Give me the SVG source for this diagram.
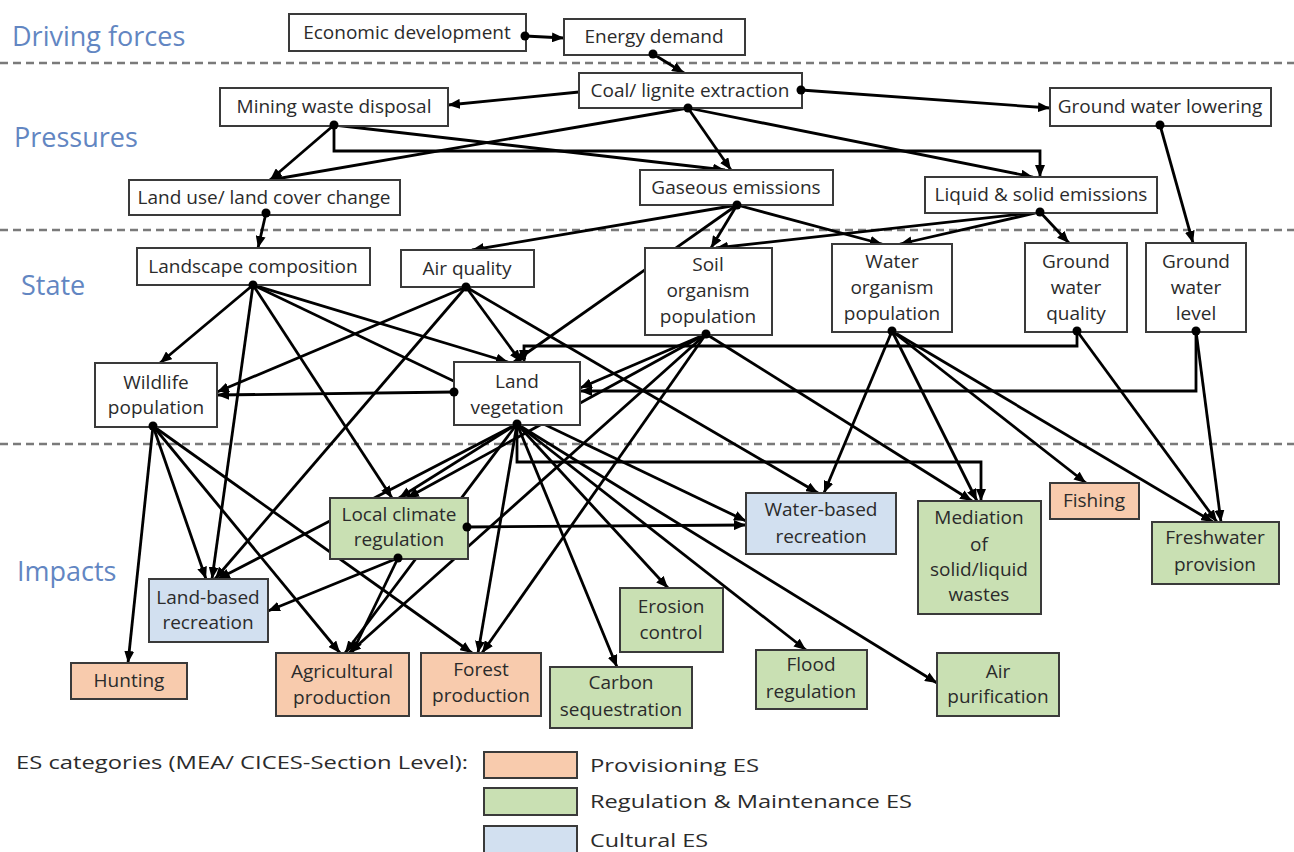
<svg xmlns="http://www.w3.org/2000/svg" width="1294" height="852" viewBox="0 0 1294 852">
<defs>
<marker id="arr" viewBox="0 0 12 10" refX="12" refY="5" markerWidth="12" markerHeight="10" markerUnits="userSpaceOnUse" orient="auto"><path d="M0,0 L12,5 L0,10 z" fill="#000"/></marker>
<style>
.c{fill:none;stroke:#000;stroke-width:2.8;marker-end:url(#arr)}
.n rect{fill:#fff;stroke:#3a3a3a;stroke-width:2}
.n text{font-family:"Open Sans","Liberation Sans",sans-serif;font-size:19px;fill:#2b2b2b;text-anchor:middle}
.prov rect{fill:#f8cbad}
.reg rect{fill:#c9e0b3}
.cul rect{fill:#d2e0f0}
.sec{font-family:"Open Sans","Liberation Sans",sans-serif;font-size:27px;fill:#6286c2}
.dash{stroke:#7a7a7a;stroke-width:2.5;stroke-dasharray:8 5}
.dot circle{fill:#000}
.leg{font-family:"Open Sans","Liberation Sans",sans-serif;font-size:19px;fill:#2b2b2b}
</style>
</defs>
<rect width="1294" height="852" fill="#fff"/>
<g id="sections">
<line class="dash" x1="0" y1="63" x2="1294" y2="63"/>
<line class="dash" x1="0" y1="230" x2="1294" y2="230"/>
<line class="dash" x1="0" y1="444" x2="1294" y2="444"/>
<text class="sec" x="12" y="46">Driving forces</text>
<text class="sec" x="14" y="147">Pressures</text>
<text class="sec" x="21" y="295">State</text>
<text class="sec" x="17" y="581">Impacts</text>
</g>
<g id="connectors">
<line class="c" x1="525" y1="36" x2="564" y2="38"/>
<line class="c" x1="653" y1="54" x2="684" y2="73"/>
<line class="c" x1="579" y1="92" x2="448" y2="105"/>
<line class="c" x1="801" y1="90" x2="1050" y2="108"/>
<line class="c" x1="688" y1="108" x2="270" y2="180"/>
<line class="c" x1="688" y1="108" x2="731" y2="170"/>
<line class="c" x1="688" y1="108" x2="1033" y2="177"/>
<line class="c" x1="334" y1="125" x2="270" y2="180"/>
<line class="c" x1="334" y1="125" x2="725" y2="170"/>
<path class="c" d="M334,125 V151 H1040 V177"/>
<line class="c" x1="1160" y1="125" x2="1193" y2="243"/>
<line class="c" x1="266" y1="213" x2="258" y2="248"/>
<line class="c" x1="737" y1="205" x2="472" y2="250"/>
<line class="c" x1="737" y1="205" x2="711" y2="248"/>
<line class="c" x1="737" y1="205" x2="882" y2="244"/>
<line class="c" x1="737" y1="205" x2="514" y2="362"/>
<line class="c" x1="1040" y1="212" x2="716" y2="248"/>
<line class="c" x1="1040" y1="212" x2="900" y2="244"/>
<line class="c" x1="1040" y1="212" x2="1069" y2="243"/>
<line class="c" x1="253" y1="285" x2="160" y2="363"/>
<line class="c" x1="253" y1="285" x2="212" y2="579"/>
<line class="c" x1="253" y1="285" x2="392" y2="498"/>
<line class="c" x1="253" y1="285" x2="508" y2="362"/>
<line class="c" x1="253" y1="285" x2="746" y2="521"/>
<line class="c" x1="466" y1="287" x2="217" y2="392"/>
<line class="c" x1="466" y1="287" x2="215" y2="579"/>
<line class="c" x1="466" y1="287" x2="521" y2="362"/>
<line class="c" x1="466" y1="287" x2="818" y2="493"/>
<line class="c" x1="706" y1="334" x2="580" y2="388"/>
<line class="c" x1="706" y1="334" x2="407" y2="498"/>
<line class="c" x1="706" y1="334" x2="349" y2="653"/>
<line class="c" x1="706" y1="334" x2="482" y2="653"/>
<line class="c" x1="706" y1="334" x2="972" y2="501"/>
<line class="c" x1="892" y1="331" x2="824" y2="493"/>
<line class="c" x1="892" y1="331" x2="977" y2="501"/>
<line class="c" x1="892" y1="331" x2="1086" y2="483"/>
<line class="c" x1="892" y1="331" x2="1213" y2="522"/>
<path class="c" d="M1077,331 V346 H524 V362"/>
<line class="c" x1="1077" y1="331" x2="1217" y2="522"/>
<path class="c" d="M1196,331 V391 H580"/>
<line class="c" x1="1196" y1="331" x2="1221" y2="522"/>
<line class="c" x1="153" y1="426" x2="128" y2="663"/>
<line class="c" x1="153" y1="426" x2="206" y2="579"/>
<line class="c" x1="153" y1="426" x2="340" y2="653"/>
<line class="c" x1="153" y1="426" x2="472" y2="653"/>
<line class="c" x1="454" y1="392" x2="217" y2="395"/>
<line class="c" x1="517" y1="424" x2="218" y2="579"/>
<line class="c" x1="517" y1="424" x2="399" y2="498"/>
<line class="c" x1="517" y1="424" x2="345" y2="653"/>
<line class="c" x1="517" y1="424" x2="478" y2="653"/>
<line class="c" x1="517" y1="424" x2="617" y2="667"/>
<line class="c" x1="517" y1="424" x2="668" y2="588"/>
<line class="c" x1="517" y1="424" x2="806" y2="650"/>
<line class="c" x1="517" y1="424" x2="937" y2="683"/>
<path class="c" d="M517,424 V462 H981 V501"/>
<line class="c" x1="467" y1="527" x2="746" y2="525"/>
<line class="c" x1="398" y1="558" x2="268" y2="611"/>
<line class="c" x1="398" y1="558" x2="352" y2="653"/>
</g>
<g id="econ" class="n"><rect x="289" y="14" width="237" height="37"/><text x="407" y="39">Economic development</text></g>
<g id="energy" class="n"><rect x="564" y="19" width="181" height="36"/><text x="654" y="43">Energy demand</text></g>
<g id="coal" class="n"><rect x="579" y="73" width="223" height="35"/><text x="690" y="97">Coal/ lignite extraction</text></g>
<g id="mining" class="n"><rect x="220" y="88" width="228" height="38"/><text x="334" y="113">Mining waste disposal</text></g>
<g id="gwlowering" class="n"><rect x="1050" y="88" width="221" height="38"/><text x="1160" y="113">Ground water lowering</text></g>
<g id="landuse" class="n"><rect x="129" y="180" width="271" height="35"/><text x="264" y="204">Land use/ land cover change</text></g>
<g id="gaseous" class="n"><rect x="640" y="170" width="193" height="35"/><text x="736" y="194">Gaseous emissions</text></g>
<g id="liquid" class="n"><rect x="925" y="177" width="232" height="36"/><text x="1041" y="201">Liquid &amp; solid emissions</text></g>
<g id="landscape" class="n"><rect x="137" y="248" width="233" height="37"/><text x="253" y="273">Landscape composition</text></g>
<g id="airquality" class="n"><rect x="401" y="250" width="133" height="37"/><text x="467" y="275">Air quality</text></g>
<g id="soil" class="n"><rect x="645" y="248" width="127" height="87"/><text x="708" y="271">Soil</text><text x="708" y="297">organism</text><text x="708" y="323">population</text></g>
<g id="waterorg" class="n"><rect x="832" y="244" width="120" height="88"/><text x="892" y="268">Water</text><text x="892" y="294">organism</text><text x="892" y="320">population</text></g>
<g id="gwquality" class="n"><rect x="1025" y="243" width="102" height="89"/><text x="1076" y="268">Ground</text><text x="1076" y="294">water</text><text x="1076" y="320">quality</text></g>
<g id="gwlevel" class="n"><rect x="1146" y="243" width="100" height="89"/><text x="1196" y="268">Ground</text><text x="1196" y="294">water</text><text x="1196" y="320">level</text></g>
<g id="wildlife" class="n"><rect x="95" y="363" width="122" height="64"/><text x="156" y="389">Wildlife</text><text x="156" y="414">population</text></g>
<g id="landveg" class="n"><rect x="454" y="362" width="126" height="63"/><text x="517" y="388">Land</text><text x="517" y="414">vegetation</text></g>
<g id="localclimate" class="n reg"><rect x="330" y="498" width="138" height="61"/><text x="399" y="521">Local climate</text><text x="399" y="546">regulation</text></g>
<g id="landbased" class="n cul"><rect x="149" y="579" width="119" height="63"/><text x="208" y="604">Land-based</text><text x="208" y="629">recreation</text></g>
<g id="hunting" class="n prov"><rect x="71" y="663" width="116" height="36"/><text x="129" y="687">Hunting</text></g>
<g id="agri" class="n prov"><rect x="276" y="653" width="133" height="63"/><text x="342" y="678">Agricultural</text><text x="342" y="704">production</text></g>
<g id="forest" class="n prov"><rect x="421" y="653" width="120" height="63"/><text x="481" y="676">Forest</text><text x="481" y="702">production</text></g>
<g id="carbon" class="n reg"><rect x="550" y="667" width="142" height="61"/><text x="621" y="689">Carbon</text><text x="621" y="716">sequestration</text></g>
<g id="erosion" class="n reg"><rect x="620" y="588" width="103" height="64"/><text x="671" y="613">Erosion</text><text x="671" y="639">control</text></g>
<g id="waterbased" class="n cul"><rect x="746" y="493" width="150" height="61"/><text x="821" y="516">Water-based</text><text x="821" y="543">recreation</text></g>
<g id="flood" class="n reg"><rect x="756" y="650" width="111" height="59"/><text x="811" y="671">Flood</text><text x="811" y="698">regulation</text></g>
<g id="airpur" class="n reg"><rect x="937" y="653" width="122" height="63"/><text x="998" y="678">Air</text><text x="998" y="703">purification</text></g>
<g id="mediation" class="n reg"><rect x="918" y="501" width="123" height="113"/><text x="979" y="524">Mediation</text><text x="979" y="551">of</text><text x="979" y="576">solid/liquid</text><text x="979" y="601">wastes</text></g>
<g id="fishing" class="n prov"><rect x="1050" y="483" width="89" height="36"/><text x="1094" y="507">Fishing</text></g>
<g id="freshwater" class="n reg"><rect x="1152" y="522" width="127" height="62"/><text x="1215" y="544">Freshwater</text><text x="1215" y="571">provision</text></g>
<g id="connector-dots" class="dot">
<circle cx="525" cy="36" r="4.5"/><circle cx="653" cy="54" r="4.5"/><circle cx="801" cy="90" r="4.5"/><circle cx="688" cy="108" r="4.5"/>
<circle cx="334" cy="125" r="4.5"/><circle cx="1160" cy="125" r="4.5"/><circle cx="266" cy="213" r="4.5"/><circle cx="737" cy="205" r="4.5"/>
<circle cx="1040" cy="212" r="4.5"/><circle cx="253" cy="285" r="4.5"/><circle cx="466" cy="287" r="4.5"/><circle cx="706" cy="334" r="4.5"/>
<circle cx="892" cy="331" r="4.5"/><circle cx="1077" cy="331" r="4.5"/><circle cx="1196" cy="331" r="4.5"/><circle cx="153" cy="426" r="4.5"/>
<circle cx="454" cy="392" r="4.5"/><circle cx="517" cy="424" r="4.5"/><circle cx="467" cy="527" r="4.5"/><circle cx="398" cy="558" r="4.5"/>
</g>
<g id="legend">
<text class="leg" x="16" y="769" textLength="452" lengthAdjust="spacingAndGlyphs">ES categories (MEA/ CICES-Section Level):</text>
<g class="n prov"><rect x="484" y="752" width="93" height="26"/></g>
<g class="n reg"><rect x="484" y="788" width="93" height="27"/></g>
<g class="n cul"><rect x="484" y="826" width="93" height="27"/></g>
<text class="leg" x="590" y="772" textLength="169" lengthAdjust="spacingAndGlyphs">Provisioning ES</text>
<text class="leg" x="590" y="808" textLength="322" lengthAdjust="spacingAndGlyphs">Regulation &amp; Maintenance ES</text>
<text class="leg" x="590" y="847" textLength="118" lengthAdjust="spacingAndGlyphs">Cultural ES</text>
</g>
</svg>
